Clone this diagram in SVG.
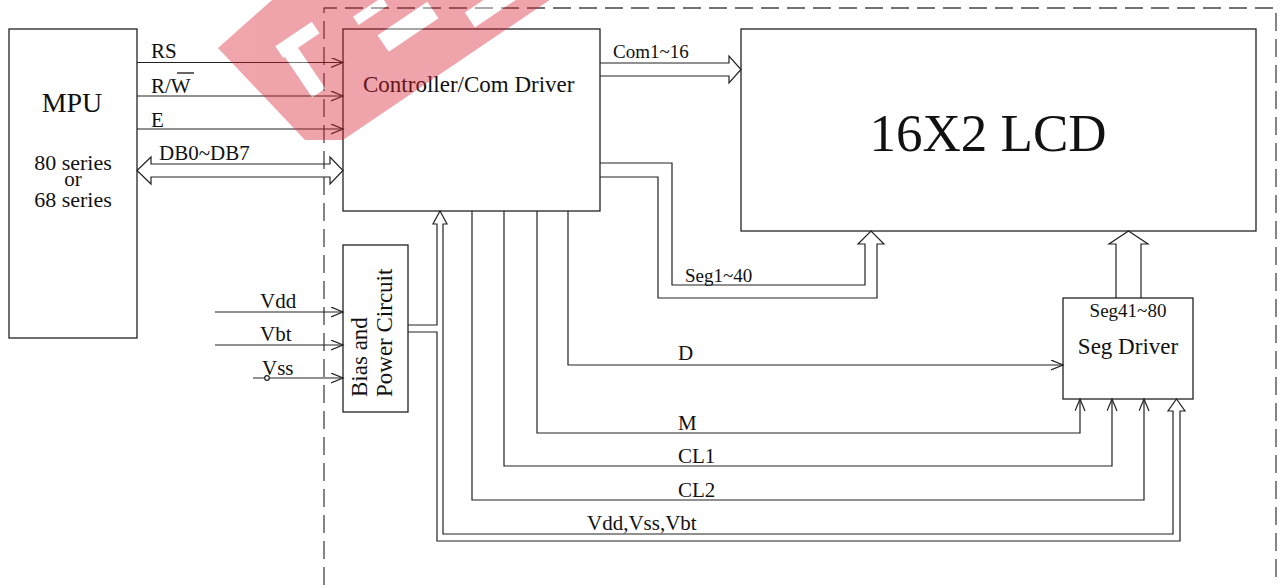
<svg xmlns="http://www.w3.org/2000/svg" width="1284" height="585" viewBox="0 0 1284 585">
<style>
.box{fill:#fff;stroke:#222;stroke-width:1.3}
.ln{fill:none;stroke:#222;stroke-width:1.2}
.dash{fill:none;stroke:#444;stroke-width:1.3;stroke-dasharray:18 8}
text{font-family:"Liberation Serif","Times New Roman",serif;fill:#111}
.lbl{font-size:21px}
.sm{font-size:19px}
.mid{text-anchor:middle}
</style>
<defs>
<marker id="open" markerWidth="14" markerHeight="12" refX="12" refY="5" orient="auto" markerUnits="userSpaceOnUse" viewBox="0 0 14 12">
<path d="M0,0 L12,5 L0,10" fill="none" stroke="#222" stroke-width="1.2"/>
</marker>
</defs>
<rect width="1284" height="585" fill="#fff"/>
<path class="dash" d="M324,585 V8 H1276 V585"/>
<g id="mpu">
<rect class="box" x="9" y="29" width="128" height="309"/>
<text x="72" y="112" class="mid" font-size="28">MPU</text>
<text x="73" y="170" class="mid" font-size="22">80 series</text>
<text x="73" y="186" class="mid" font-size="21">or</text>
<text x="73" y="207" class="mid" font-size="22">68 series</text>
</g>
<g id="controller">
<rect class="box" x="343" y="29" width="257" height="182"/>
<text x="363" y="92" font-size="23">Controller/Com Driver</text>
</g>
<g id="lcd">
<rect class="box" x="741" y="29" width="515" height="202"/>
<text x="988" y="151" class="mid" font-size="53">16X2 LCD</text>
</g>
<g id="bias">
<rect class="box" x="343" y="245" width="65" height="167"/>
<text transform="translate(367,397) rotate(-90)" font-size="23">Bias and</text>
<text transform="translate(392,397) rotate(-90)" font-size="23">Power Circuit</text>
</g>
<g id="segdriver">
<rect class="box" x="1063" y="298" width="130" height="101"/>
<text x="1128" y="317" class="mid sm">Seg41~80</text>
<text x="1128" y="354" class="mid" font-size="23">Seg Driver</text>
</g>
<g id="connectors">
<line class="ln" x1="137" y1="62.5" x2="343" y2="62.5" marker-end="url(#open)"/>
<line class="ln" x1="137" y1="96" x2="343" y2="96" marker-end="url(#open)"/>
<line class="ln" x1="137" y1="129" x2="343" y2="129" marker-end="url(#open)"/>
<polygon class="ln" points="151,164 330,164 330,157 343,170.5 330,184 330,177 151,177 151,184 137,170.5 151,157"/>
<text x="151" y="58" class="lbl">RS</text>
<text x="151" y="93" class="lbl">R/W</text>
<line x1="177" y1="73" x2="194" y2="73" stroke="#111" stroke-width="1.3"/>
<text x="151" y="127" class="lbl">E</text>
<text x="159" y="160" class="lbl">DB0~DB7</text>
<polyline class="ln" points="600,63 729,63 729,56 741,69.5 729,83 729,76 600,76"/>
<text x="613" y="58" class="sm">Com1~16</text>
<polyline class="ln" points="600,163 672,163 672,285 865,285 865,244 858,244 871,231 884,244 877,244 877,298 658,298 658,177 600,177"/>
<text x="685" y="282" class="sm">Seg1~40</text>
<polyline class="ln" points="1116,298 1116,244 1109,244 1128.5,231 1148,244 1141,244 1141,298"/>
<line class="ln" x1="215" y1="312" x2="343" y2="312" marker-end="url(#open)"/>
<line class="ln" x1="215" y1="345" x2="343" y2="345" marker-end="url(#open)"/>
<line class="ln" x1="253" y1="378" x2="343" y2="378" marker-end="url(#open)"/>
<circle cx="267" cy="378" r="2.3" fill="#fff" stroke="#222" stroke-width="1.2"/>
<text x="260" y="308" class="lbl">Vdd</text>
<text x="260" y="341" class="lbl">Vbt</text>
<text x="262" y="375" class="lbl">Vss</text>
<polyline class="ln" points="408,325 437,325 437,224 433,224 440,211 447,224 443,224 443,534 1173,534 1173,411 1168,411 1176.5,399 1185,411 1180,411 1180,541 437,541 437,332 408,332"/>
<polyline class="ln" points="568,211 568,365 1063,365" marker-end="url(#open)"/>
<polyline class="ln" points="537,211 537,433 1080,433 1080,399" marker-end="url(#open)"/>
<polyline class="ln" points="504,211 504,466 1112,466 1112,399" marker-end="url(#open)"/>
<polyline class="ln" points="472,211 472,500 1144,500 1144,399" marker-end="url(#open)"/>
<text x="678" y="360" class="lbl">D</text>
<text x="678" y="430" class="lbl">M</text>
<text x="678" y="463" class="lbl">CL1</text>
<text x="678" y="497" class="lbl">CL2</text>
<text x="587" y="530" class="lbl">Vdd,Vss,Vbt</text>
</g>
<g id="watermark" opacity="0.4">
<polygon points="218,48 305,140 343,140 560,-7 280,-7" fill="#D71E2D"/>
<g transform="translate(232,43) rotate(-34)" fill="#fff">
<rect x="34" y="27" width="44" height="14"/>
<rect x="36" y="40" width="16" height="50"/>
<rect x="115" y="46" width="35" height="10"/>
<rect x="125" y="75" width="60" height="20"/>
<rect x="210" y="105" width="50" height="18"/>
</g>
</g>
</svg>
